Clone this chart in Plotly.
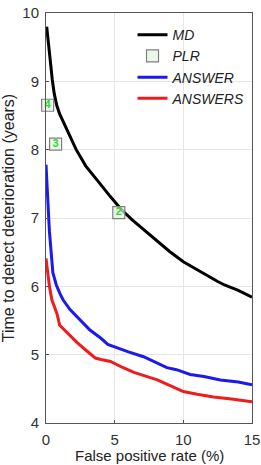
import plotly.graph_objects as go

# MD curve
md_x = [0.05, 0.15, 0.29, 0.46, 0.6, 0.78, 1.0, 1.26, 1.46, 1.8, 2.2, 2.9, 3.4, 3.9, 4.7, 5.5, 6.3, 7.3, 8.0, 9.0, 10.0, 11.0, 12.0, 12.5, 13.0, 14.0, 15.0]
md_y = [9.8, 9.6, 9.38, 9.02, 8.82, 8.65, 8.52, 8.41, 8.33, 8.17, 8.0, 7.76, 7.64, 7.51, 7.31, 7.12, 6.97, 6.8, 6.68, 6.51, 6.36, 6.24, 6.12, 6.07, 6.02, 5.94, 5.84]

# PLR points
plr_x = [0.12, 0.7, 5.3]
plr_y = [8.65, 8.08, 7.08]
plr_lbl = ["4", "3", "2"]

# ANSWER curve
ans_x = [0.0, 0.1, 0.25, 0.5, 0.75, 1.0, 1.25, 1.75, 2.5, 3.2, 4.0, 4.5, 5.2, 6.0, 7.1, 8.0, 8.8, 9.5, 10.5, 11.5, 12.7, 14.0, 15.0]
ans_y = [7.78, 7.4, 6.8, 6.2, 6.02, 5.9, 5.8, 5.66, 5.5, 5.36, 5.24, 5.15, 5.1, 5.04, 4.97, 4.88, 4.81, 4.78, 4.71, 4.68, 4.63, 4.6, 4.56]

# ANSWERS curve
anss_x = [0.0, 0.1, 0.25, 0.43, 0.6, 0.8, 1.0, 1.5, 2.25, 3.0, 3.6, 4.0, 4.7, 5.5, 6.4, 7.2, 8.1, 9.0, 10.0, 11.0, 12.2, 13.5, 15.0]
anss_y = [6.41, 6.25, 6.0, 5.8, 5.7, 5.6, 5.43, 5.33, 5.18, 5.05, 4.95, 4.93, 4.9, 4.82, 4.74, 4.69, 4.63, 4.55, 4.46, 4.42, 4.38, 4.35, 4.31]

x_ticks = [0, 5, 10, 15]
y_ticks = [4, 5, 6, 7, 8, 9, 10]
x_title = "False positive rate (%)"
y_title = "Time to detect deterioration (years)"

fig = go.Figure()
fig.add_trace(go.Scatter(x=md_x, y=md_y, mode="lines", name="MD",
                         line=dict(color="black", width=3)))
fig.add_trace(go.Scatter(x=plr_x, y=plr_y, mode="markers+text", name="PLR",
                         text=["<b>" + t + "</b>" for t in plr_lbl], textposition="middle center",
                         textfont=dict(color="#2ed82e", size=11, family="Liberation Sans"),
                         cliponaxis=False,
                         marker=dict(symbol="square", size=12, color="rgba(225,245,225,0.7)",
                                     line=dict(color="#808080", width=1.2))))
fig.add_trace(go.Scatter(x=ans_x, y=ans_y, mode="lines", name="ANSWER",
                         line=dict(color="#1a1aee", width=3)))
fig.add_trace(go.Scatter(x=anss_x, y=anss_y, mode="lines", name="ANSWERS",
                         line=dict(color="#ee1c1c", width=3)))

axis_common = dict(showline=True, linecolor="#555555", linewidth=1, mirror=True,
                   showgrid=True, gridcolor="#e6e6e6", gridwidth=1,
                   ticks="inside", ticklen=3, tickcolor="#555555", zeroline=False,
                   automargin=False,
                   tickfont=dict(family="Liberation Sans", size=15, color="#333333"))

fig.update_xaxes(range=[0, 15], tickvals=x_ticks, ticktext=[str(v) for v in x_ticks],
                 ticklabelstandoff=3, **axis_common)
fig.update_yaxes(range=[4, 10], tickvals=y_ticks, ticktext=[str(v) for v in y_ticks],
                 ticklabelstandoff=3,
                 title=dict(text=y_title, standoff=4,
                            font=dict(family="Liberation Sans", size=16, color="#222222")),
                 **axis_common)

fig.add_annotation(text=x_title, xref="paper", yref="paper", x=0.5, y=0,
                   xanchor="center", yanchor="top", yshift=-22, showarrow=False,
                   font=dict(family="Liberation Sans", size=15, color="#222222"))

fig.update_layout(
    width=261, height=465,
    margin=dict(l=46, r=9, t=13, b=42),
    plot_bgcolor="white", paper_bgcolor="white",
    showlegend=True,
    legend=dict(x=0.42, y=0.985, xanchor="left", yanchor="top",
                bgcolor="rgba(255,255,255,0)", borderwidth=0,
                font=dict(family="Liberation Sans", size=14, color="#222222"),
                itemwidth=30, tracegroupgap=0),
)
for tr in fig.data:
    tr.name = "<i>" + tr.name + "</i>"

fig.write_html("out.html")
